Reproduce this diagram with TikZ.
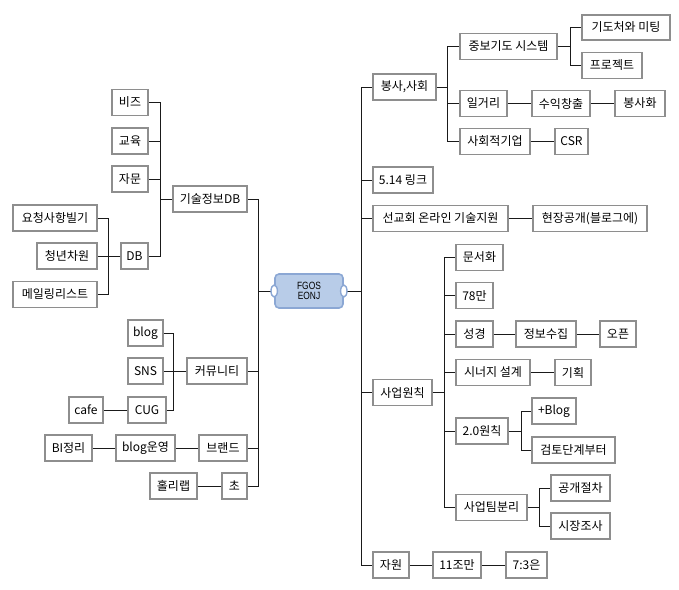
\documentclass[tikz,border=0pt]{standalone}
\usepackage{fontspec}
\setmainfont{Noto Sans CJK KR}
\newfontfamily\centerfont[FakeStretch=0.8]{Liberation Sans}
\usetikzlibrary{shapes.geometric}
\definecolor{boxline}{HTML}{8E8E8E}
\definecolor{conline}{HTML}{1A1A1A}
\definecolor{cfill}{HTML}{B8CCE8}
\definecolor{cline}{HTML}{8BA7D4}
\tikzset{
  bx/.style={draw=boxline, line width=1.5pt, fill=white, minimum height=26pt, inner sep=0pt,
    font=\fontsize{12}{13}\selectfont},
  con/.style={draw=conline, line width=1pt},
}
\begin{document}
\begin{tikzpicture}[x=1pt,y=-1pt]
\useasboundingbox (0,0) rectangle (679,589);
% ---- center
\node[draw=cline, fill=cfill, line width=1.6pt, rounded corners=4pt, minimum width=68pt, minimum height=34pt, inner sep=0pt,
  font=\centerfont\fontsize{10.5}{10}\selectfont, align=center] (ctr) at (309,291) {FGOS\\EONJ};
% ---- left side
\node[bx, minimum width=74pt] (kisul) at (210,199) {기술정보DB};
\node[bx, minimum width=36pt] (biz) at (130,102.5) {비즈};
\node[bx, minimum width=36pt] (gyoyuk) at (130,141) {교육};
\node[bx, minimum width=36pt] (jamun) at (130,179) {자문};
\node[bx, minimum width=27pt] (db) at (134.5,256) {DB};
\node[bx, minimum width=84pt] (yocheong) at (55,218) {요청사항빌기};
\node[bx, minimum width=60pt] (cheong) at (67,256) {청년차원};
\node[bx, minimum width=84pt] (mailing) at (55,294.5) {메일링리스트};
\node[bx, minimum width=60pt] (comm) at (217,371) {커뮤니티};
\node[bx, minimum width=35pt] (blog) at (145.5,333) {blog};
\node[bx, minimum width=35pt] (sns) at (145.5,371) {SNS};
\node[bx, minimum width=38pt] (cug) at (147,410) {CUG};
\node[bx, minimum width=34pt] (cafe) at (86,410) {cafe};
\node[bx, minimum width=48pt] (brand) at (223,448) {브랜드};
\node[bx, minimum width=59pt] (blogop) at (145.5,448) {blog운영};
\node[bx, minimum width=47pt] (bi) at (68.5,448) {BI정리};
\node[bx, minimum width=25pt] (cho) at (234.5,486) {초};
\node[bx, minimum width=47pt] (holy) at (173.5,486) {홀리랩};
% ---- right side
\node[bx, minimum width=63pt] (bongsa) at (404.5,87) {봉사,사회};
\node[bx, minimum width=60pt] (link) at (403,180) {5.14 링크};
\node[bx, minimum width=135pt] (seongyo) at (440.5,218.5) {선교회 온라인 기술지원};
\node[bx, minimum width=59pt] (saeop) at (402.5,392.5) {사업원칙};
\node[bx, minimum width=36pt] (jawon) at (391,565) {자원};
\node[bx, minimum width=97pt] (jungbo) at (508.5,46.5) {중보기도 시스템};
\node[bx, minimum width=47pt] (ilgeori) at (483.5,103.5) {일거리};
\node[bx, minimum width=70pt] (sahoe) at (495,141.5) {사회적기업};
\node[bx, minimum width=88pt, minimum height=25pt] (gido) at (626,27.5) {기도처와 미팅};
\node[bx, minimum width=60pt] (project) at (612,65.5) {프로젝트};
\node[bx, minimum width=58pt] (suik) at (561,103.5) {수익창출};
\node[bx, minimum width=50pt] (bongsahwa) at (640,103.5) {봉사화};
\node[bx, minimum width=33pt] (csr) at (571.5,141.5) {CSR};
\node[bx, minimum width=114pt] (hyeon) at (590,218.5) {현장공개(블로그에)};
\node[bx, minimum width=47pt] (munseo) at (479.5,257.5) {문서화};
\node[bx, minimum width=37pt] (m78) at (474.5,295.5) {78만};
\node[bx, minimum width=37pt] (sg) at (474.5,334) {성경};
\node[bx, minimum width=60pt] (jeongbo) at (546,334) {정보수집};
\node[bx, minimum width=36pt] (open) at (618,334) {오픈};
\node[bx, minimum width=74pt] (syn) at (493,372.5) {시너지 설계};
\node[bx, minimum width=36pt] (gihoek) at (573,372.5) {기획};
\node[bx, minimum width=52pt] (p20) at (482,431) {2.0원칙};
\node[bx, minimum width=44pt] (pblog) at (554,411) {+Blog};
\node[bx, minimum width=83pt] (geomto) at (573.5,450) {검토단계부터};
\node[bx, minimum width=71pt] (team) at (491.5,507.5) {사업팀분리};
\node[bx, minimum width=59pt] (gonggae) at (580.5,488) {공개절차};
\node[bx, minimum width=59pt] (sijang) at (580.5,526) {시장조사};
\node[bx, minimum width=48pt] (jo) at (457,565) {11조만};
\node[bx, minimum width=41pt] (r73) at (526.5,565) {7:3은};
% ---- junction coordinates
\coordinate (vLeft) at (258,291);
\coordinate (vRight) at (361,291);
\coordinate (vKisul) at (160,199);
\coordinate (vDB) at (108,256);
\coordinate (vComm) at (173,371);
\coordinate (vBong) at (447,87);
\coordinate (vJung) at (570,46.5);
\coordinate (vSaeop) at (444,392.5);
\coordinate (vP20) at (521,431);
\coordinate (vTeam) at (539,507.5);
% ---- connectors
\draw[con] (ctr.west) -- (vLeft);
\draw[con] (vLeft) |- (kisul.east);
\draw[con] (vLeft) |- (comm.east);
\draw[con] (vLeft) |- (brand.east);
\draw[con] (vLeft) |- (cho.east);
\draw[con] (kisul.west) -- (vKisul);
\draw[con] (vKisul) |- (biz.east);
\draw[con] (vKisul) |- (gyoyuk.east);
\draw[con] (vKisul) |- (jamun.east);
\draw[con] (vKisul) |- (db.east);
\draw[con] (db.west) -- (vDB);
\draw[con] (vDB) |- (yocheong.east);
\draw[con] (vDB) |- (cheong.east);
\draw[con] (vDB) |- (mailing.east);
\draw[con] (comm.west) -- (vComm);
\draw[con] (vComm) |- (blog.east);
\draw[con] (vComm) |- (sns.east);
\draw[con] (vComm) |- (cug.east);
\draw[con] (cug.west) -- (cafe.east);
\draw[con] (brand.west) -- (blogop.east);
\draw[con] (blogop.west) -- (bi.east);
\draw[con] (cho.west) -- (holy.east);
\draw[con] (ctr.east) -- (vRight);
\draw[con] (vRight) |- (bongsa.west);
\draw[con] (vRight) |- (link.west);
\draw[con] (vRight) |- (seongyo.west);
\draw[con] (vRight) |- (saeop.west);
\draw[con] (vRight) |- (jawon.west);
\draw[con] (bongsa.east) -- (vBong);
\draw[con] (vBong) |- (jungbo.west);
\draw[con] (vBong) |- (ilgeori.west);
\draw[con] (vBong) |- (sahoe.west);
\draw[con] (jungbo.east) -- (vJung);
\draw[con] (vJung) |- (gido.west);
\draw[con] (vJung) |- (project.west);
\draw[con] (ilgeori.east) -- (suik.west);
\draw[con] (suik.east) -- (bongsahwa.west);
\draw[con] (sahoe.east) -- (csr.west);
\draw[con] (seongyo.east) -- (hyeon.west);
\draw[con] (saeop.east) -- (vSaeop);
\draw[con] (vSaeop) |- (munseo.west);
\draw[con] (vSaeop) |- (m78.west);
\draw[con] (vSaeop) |- (sg.west);
\draw[con] (vSaeop) |- (syn.west);
\draw[con] (vSaeop) |- (p20.west);
\draw[con] (vSaeop) |- (team.west);
\draw[con] (sg.east) -- (jeongbo.west);
\draw[con] (jeongbo.east) -- (open.west);
\draw[con] (syn.east) -- (gihoek.west);
\draw[con] (p20.east) -- (vP20);
\draw[con] (vP20) |- (pblog.west);
\draw[con] (vP20) |- (geomto.west);
\draw[con] (team.east) -- (vTeam);
\draw[con] (vTeam) |- (gonggae.west);
\draw[con] (vTeam) |- (sijang.west);
\draw[con] (jawon.east) -- (jo.west);
\draw[con] (jo.east) -- (r73.west);
% ---- handles on center node
\draw[draw=cline, fill=white, line width=1.4pt] (ctr.west) ellipse (3.2pt and 6pt);
\draw[draw=cline, fill=white, line width=1.4pt] (ctr.east) ellipse (3.2pt and 6pt);
\end{tikzpicture}
\end{document}
